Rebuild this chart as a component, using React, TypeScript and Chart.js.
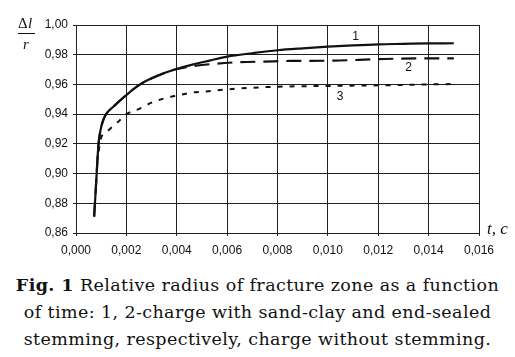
import React, { useEffect, useRef } from "react";
import { Chart, registerables } from "chart.js";

Chart.register(...registerables);

// Series 1: charge with sand-clay stemming
const t1 = [0.00072, 0.00078, 0.00082, 0.00089, 0.00097, 0.00108, 0.00122, 0.00148, 0.002, 0.00247, 0.00294, 0.00346, 0.004, 0.00466, 0.0053, 0.006, 0.007, 0.008, 0.009, 0.010, 0.011, 0.012, 0.013, 0.014, 0.015];
const r1 = [0.871, 0.888, 0.9, 0.919, 0.929, 0.936, 0.9406, 0.945, 0.9529, 0.9592, 0.9636, 0.9674, 0.9704, 0.9735, 0.976, 0.9787, 0.981, 0.983, 0.9843, 0.9854, 0.9863, 0.987, 0.9873, 0.9876, 0.9877];
// Series 2: end-sealed stemming
const t2 = [0.00072, 0.00078, 0.00082, 0.00089, 0.00097, 0.00108, 0.00122, 0.00148, 0.002, 0.00247, 0.00294, 0.00346, 0.004, 0.00452, 0.00544, 0.0065, 0.0075, 0.0085, 0.0102, 0.012, 0.0135, 0.015];
const r2 = [0.871, 0.888, 0.9, 0.919, 0.929, 0.936, 0.9406, 0.945, 0.9529, 0.9592, 0.9636, 0.9674, 0.9704, 0.972, 0.9738, 0.975, 0.9754, 0.9758, 0.976, 0.977, 0.9775, 0.9775];
// Series 3: charge without stemming
const t3 = [0.0009, 0.00097, 0.00128, 0.00164, 0.002, 0.00251, 0.003, 0.00353, 0.004, 0.0046, 0.00504, 0.006, 0.007, 0.008, 0.010, 0.012, 0.015];
const r3 = [0.915, 0.9226, 0.929, 0.9343, 0.94, 0.9435, 0.9477, 0.9507, 0.9525, 0.9545, 0.9551, 0.9567, 0.9578, 0.9585, 0.959, 0.9594, 0.9603];

const xTicks = [0, 0.002, 0.004, 0.006, 0.008, 0.01, 0.012, 0.014, 0.016];
const yTicks = [0.86, 0.88, 0.9, 0.92, 0.94, 0.96, 0.98, 1.0];

const curveLabels = ["1", "2", "3"];
const curveLabelT = [0.0111, 0.0132, 0.01048];
const curveLabelR = [0.9919, 0.9711, 0.9515];

const toPts = (xs: number[], ys: number[]) => xs.map((x, i) => ({ x, y: ys[i] }));

const annot = {
  id: "annot",
  afterDraw(chart: any) {
    const { ctx, scales } = chart;
    const xs = scales.x;
    const ys = scales.y;
    ctx.save();
    ctx.fillStyle = "#111";
    ctx.font = "12px 'Liberation Sans', Arial, sans-serif";
    ctx.textAlign = "center";
    ctx.textBaseline = "middle";
    curveLabels.forEach((l, i) => {
      ctx.fillText(l, xs.getPixelForValue(curveLabelT[i]), ys.getPixelForValue(curveLabelR[i]));
    });
    // axis title t, c
    ctx.font = "italic 17px 'Liberation Serif', serif";
    ctx.textAlign = "left";
    ctx.fillText("t, c", xs.right + 8, ys.bottom - 3);
    // Δl / r
    const lx = xs.left - 58;
    ctx.font = "15px 'Liberation Serif', serif";
    ctx.fillText("\u0394", lx, ys.top - 1);
    ctx.font = "italic 15px 'Liberation Serif', serif";
    ctx.fillText("l", lx + 10, ys.top - 1);
    ctx.fillRect(lx, ys.top + 8, 17, 1);
    ctx.fillText("r", lx + 5, ys.top + 20);
    ctx.restore();
  },
};

export default function App() {
  const ref = useRef<HTMLCanvasElement>(null);
  useEffect(() => {
    document.body.style.margin = "0";
    const chart = new Chart(ref.current!, {
      type: "line",
      data: {
        datasets: [
          { data: toPts(t1, r1), borderColor: "#111", borderWidth: 2.2, pointRadius: 0, fill: false, order: 0 },
          { data: toPts(t2, r2), borderColor: "#111", borderWidth: 2.2, borderDash: [15, 8], pointRadius: 0, fill: false, order: 1 },
          { data: toPts(t3, r3), borderColor: "#111", borderWidth: 2, borderDash: [5, 7], pointRadius: 0, fill: false, order: 2 },
        ],
      },
      options: {
        animation: false,
        responsive: false,
        cubicInterpolationMode: "monotone",
        layout: { padding: { left: 0, right: 36, top: 25, bottom: 0 } },
        plugins: { legend: { display: false }, tooltip: { enabled: false } },
        scales: {
          x: {
            type: "linear",
            min: 0,
            max: 0.016,
            afterBuildTicks: (s: any) => { s.ticks = xTicks.map((v) => ({ value: v })); },
            afterFit: (s: any) => { s.height = 32; },
            grid: { color: "#222", lineWidth: 1, tickLength: 3 },
            border: { color: "#222" },
            ticks: {
              color: "#111",
              font: { family: "'Liberation Sans', Arial, sans-serif", size: 12 },
              padding: 7,
              maxRotation: 0,
              callback: (v: any) => Number(v).toFixed(3).replace(".", ","),
            },
          },
          y: {
            type: "linear",
            min: 0.86,
            max: 1.0,
            afterBuildTicks: (s: any) => { s.ticks = yTicks.map((v) => ({ value: v })); },
            afterFit: (s: any) => { s.width = 76; },
            grid: { color: "#222", lineWidth: 1, tickLength: 3 },
            border: { color: "#222" },
            ticks: {
              color: "#111",
              font: { family: "'Liberation Sans', Arial, sans-serif", size: 12 },
              padding: 5,
              callback: (v: any) => Number(v).toFixed(2).replace(".", ","),
            },
          },
        },
      } as any,
      plugins: [annot],
    });
    return () => chart.destroy();
  }, []);

  return (
    <div style={{ position: "absolute", left: 0, top: 0, width: 515, height: 357, background: "#fff" }}>
      <canvas ref={ref} width={515} height={265} style={{ display: "block" }} />
      <div
        style={{
          position: "absolute",
          left: 0,
          top: 272,
          width: 515,
          textAlign: "center",
          fontFamily: "'DejaVu Serif', serif",
          fontSize: 17.5,
          letterSpacing: "0.4px",
          lineHeight: "27px",
          color: "#111",
          whiteSpace: "nowrap",
        }}
      >
        <b>Fig. 1</b> Relative radius of fracture zone as a function
        <br />
        of time: 1, 2-charge with sand-clay and end-sealed
        <br />
        stemming, respectively, charge without stemming.
      </div>
    </div>
  );
}
